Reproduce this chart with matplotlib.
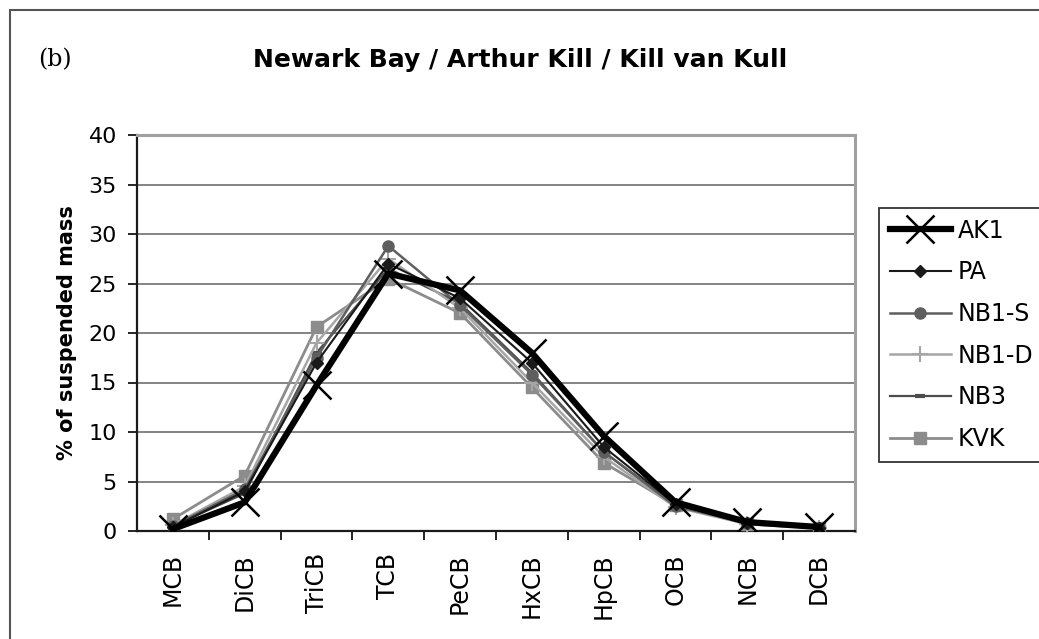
import matplotlib.pyplot as plt
from matplotlib.patches import Rectangle
import numpy as np

plt.rcParams['font.family'] = ['DejaVu Sans']

homologs = ['MCB', 'DiCB', 'TriCB', 'TCB', 'PeCB', 'HxCB', 'HpCB', 'OCB', 'NCB', 'DCB']

ak1 = [0.2, 2.9, 14.7, 26.0, 24.3, 18.0, 9.6, 2.9, 0.9, 0.4]
pa = [0.4, 4.0, 17.0, 27.0, 23.5, 17.0, 8.5, 2.7, 0.8, 0.3]
nb1_s = [0.5, 4.2, 17.5, 28.8, 22.8, 15.8, 8.0, 2.5, 0.8, 0.3]
nb1_d = [0.6, 4.5, 19.0, 27.5, 22.5, 15.0, 7.5, 2.4, 0.7, 0.3]
nb3 = [0.5, 3.8, 18.0, 26.5, 23.0, 16.0, 8.0, 2.6, 0.8, 0.3]
kvk = [1.2, 5.6, 20.6, 25.5, 22.0, 14.5, 6.9, 2.6, 0.7, 0.3]

W, H = 1039, 639
fig = plt.figure(figsize=(W / 100, H / 100), dpi=100)
# plot area in pixels: x 137..855, y 135..531
ax = fig.add_axes([137 / W, 1 - 531 / H, 718 / W, 396 / H])

x = np.arange(len(homologs))

ax.plot(x, kvk, color='#8c8c8c', lw=2, marker='s', ms=9, mfc='#8c8c8c', mec='#8c8c8c', label='KVK', zorder=3)
ax.plot(x, nb3, color='#4d4d4d', lw=1.6, marker='_', ms=7, mew=3, label='NB3', zorder=3)
ax.plot(x, nb1_d, color='#a6a6a6', lw=1.8, marker='+', ms=12, mew=1.5, label='NB1-D', zorder=3)
ax.plot(x, nb1_s, color='#5e5e5e', lw=1.8, marker='o', ms=8, mfc='#5e5e5e', mec='#5e5e5e', label='NB1-S', zorder=3)
ax.plot(x, pa, color='#1a1a1a', lw=1.5, marker='D', ms=6, label='PA', zorder=3)
ax.plot(x, ak1, color='black', lw=4.5, marker='x', ms=20, mew=1.8, label='AK1', zorder=4)

ax.set_xlim(-0.5, len(homologs) - 0.5)
ax.set_ylim(0, 40)
ax.set_yticks(np.arange(0, 41, 5))
ax.set_xticks(x)
ax.set_xticklabels(homologs, rotation=90, fontsize=17)
ax.set_xticks(np.arange(0.5, len(homologs) - 0.5, 1), minor=True)
ax.tick_params(axis='x', which='major', length=0, pad=16)
ax.tick_params(axis='x', which='minor', length=6.5, width=1.2, direction='out', color='black')
ax.tick_params(axis='y', labelsize=16, length=6.5, width=1.2, pad=8, direction='out')
ax.yaxis.grid(True, color='#7a7a7a', lw=1.3)
ax.set_axisbelow(True)

for side in ['top', 'right']:
    ax.spines[side].set_color('#a0a0a0')
    ax.spines[side].set_linewidth(2.2)
for side in ['left', 'bottom']:
    ax.spines[side].set_color('#1a1a1a')
    ax.spines[side].set_linewidth(1.6)

ax.set_ylabel('% of suspended mass', fontsize=15, fontweight='bold', labelpad=8)

handles, labels = ax.get_legend_handles_labels()
leg = fig.legend(handles[::-1], labels[::-1], loc='upper left',
                 bbox_to_anchor=(879 / W, 1 - 208 / H), bbox_transform=fig.transFigure,
                 fontsize=17, frameon=True, fancybox=False, edgecolor='black',
                 handlelength=2.6, handletextpad=0.3, labelspacing=0.75, borderpad=0.45,
                 borderaxespad=0)
leg.get_frame().set_linewidth(1.3)

fig.text(520 / W, 1 - 60 / H, 'Newark Bay / Arthur Kill / Kill van Kull', ha='center', va='center',
         fontsize=18, fontweight='bold')
fig.text(55 / W, 1 - 60 / H, '(b)', ha='center', va='center', fontsize=17, family='DejaVu Serif')

# frame around the whole chart
fig.patches.append(Rectangle((10 / W, -0.01), 1.02, 1 - 10 / H + 0.01,
                             transform=fig.transFigure, fill=False,
                             edgecolor='#555555', lw=1.5))

fig.savefig('out.png', dpi=100)
